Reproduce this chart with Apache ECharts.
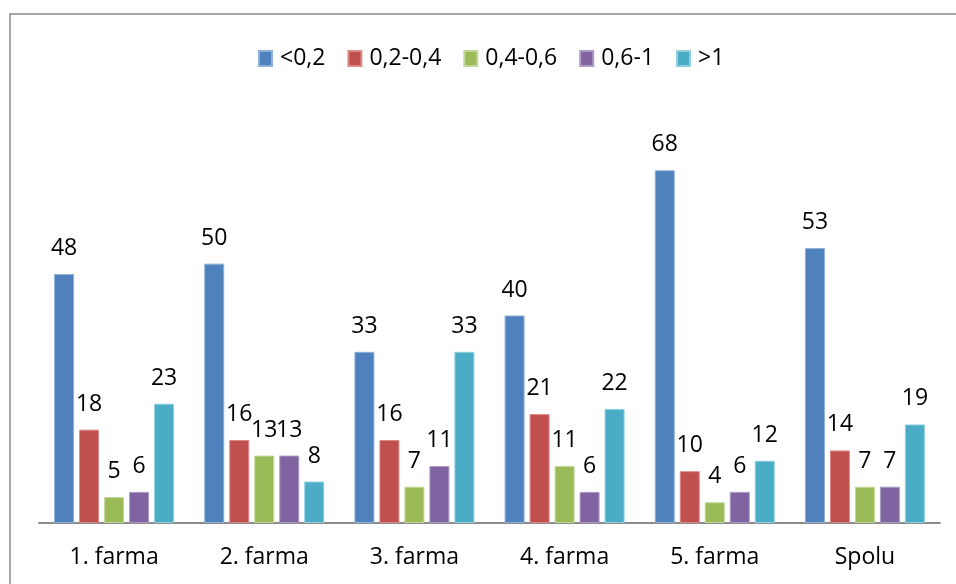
<!DOCTYPE html>
<html>
<head>
<meta charset="utf-8">
<script src="https://cdn.jsdelivr.net/npm/echarts@6/dist/echarts.min.js"></script>
<style>
  html, body { margin: 0; padding: 0; background: #fff; }
  #chart { width: 956px; height: 584px; }
</style>
</head>
<body>
<div id="chart"></div>
<script>
// Farm groups on the x axis
const categories = ['1. farma', '2. farma', '3. farma', '4. farma', '5. farma', 'Spolu'];

// Class names shown in the legend
const seriesNames = ['<0,2', '0,2-0,4', '0,4-0,6', '0,6-1', '>1'];

// Values per class, one entry per farm group
const valsLt02   = [48, 50, 33, 40, 68, 53];
const vals02to04 = [18, 16, 16, 21, 10, 14];
const vals04to06 = [5, 13, 7, 11, 4, 7];
const vals06to1  = [6, 13, 11, 6, 6, 7];
const valsGt1    = [23, 8, 33, 22, 12, 19];

const seriesValues = [valsLt02, vals02to04, vals04to06, vals06to1, valsGt1];
const colors = ['#4F81BD', '#C0504D', '#9BBB59', '#8064A2', '#4BACC6'];
const borderColors = ['#8eb0db', '#dc8a88', '#c2d89b', '#ad9bc6', '#8fd0e0'];

const FONT = '"Open Sans", "Liberation Sans", Arial, sans-serif';
const FS = 23;

const chart = echarts.init(document.getElementById('chart'), null, { renderer: 'canvas' });

chart.setOption({
  animation: false,
  backgroundColor: '#fff',
  graphic: [{
    type: 'rect',
    shape: { x: 10, y: 14, width: 960, height: 600 },
    style: { fill: 'none', stroke: '#8c8c8c', lineWidth: 1.5 },
    silent: true,
    z: -1
  }],
  legend: {
    top: 42,
    left: 253,
    itemWidth: 13,
    itemHeight: 15,
    itemGap: 22,
    icon: 'rect',
    textStyle: { fontFamily: FONT, fontSize: FS, color: '#000', padding: [0, 0, 0, 3] },
    data: seriesNames
  },
  grid: { left: 39, right: 16, top: 108, bottom: 61, containLabel: false },
  xAxis: {
    type: 'category',
    data: categories,
    axisLine: { show: true, lineStyle: { color: '#8c8c8c', width: 2 } },
    axisTick: { show: false },
    axisLabel: { fontFamily: FONT, fontSize: FS, color: '#000', margin: 23 }
  },
  yAxis: {
    type: 'value',
    min: 0,
    max: 80,
    show: false
  },
  series: seriesNames.map((name, i) => ({
    name: name,
    type: 'bar',
    data: seriesValues[i],
    barWidth: 20,
    barGap: '25%',
    barCategoryGap: '20%',
    itemStyle: { color: colors[i], borderColor: borderColors[i], borderWidth: 1 },
    label: {
      show: true,
      position: 'top',
      distance: 14,
      fontFamily: FONT,
      fontSize: FS,
      color: '#000'
    }
  }))
});
</script>
</body>
</html>
